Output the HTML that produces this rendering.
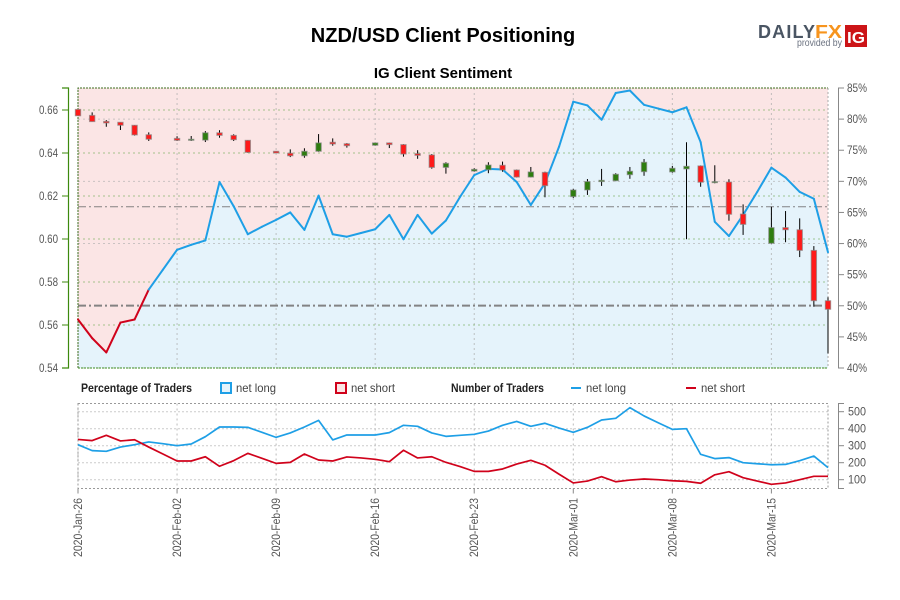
<!DOCTYPE html>
<html lang="en">
<head>
<meta charset="utf-8">
<title>NZD/USD Client Positioning</title>
<style>
html,body{margin:0;padding:0;background:#fff;}
#wrap{position:relative;width:900px;height:600px;overflow:hidden;background:#fff;}
svg{display:block;position:absolute;left:0;top:0;font-family:"Liberation Sans",sans-serif;}
</style>
</head>
<body>
<div id="wrap">
<svg id="chart" width="900" height="600" viewBox="0 0 900 600">
  <text x="443" y="42" text-anchor="middle" font-size="20" font-weight="bold" fill="#000">NZD/USD Client Positioning</text>
  <text x="443" y="78" text-anchor="middle" font-size="15" font-weight="bold" fill="#000">IG Client Sentiment</text>

  <g>
    <text x="758" y="38" font-size="18" font-weight="bold" fill="#4a5563" textLength="57" lengthAdjust="spacing">DAILY</text>
    <text x="815" y="38" font-size="18" font-weight="bold" fill="#f7941d" textLength="27" lengthAdjust="spacingAndGlyphs">FX</text>
    <text x="797" y="46" font-size="10" fill="#6b7280" textLength="45" lengthAdjust="spacingAndGlyphs">provided by</text>
    <rect x="845" y="25" width="22" height="22" fill="#cc1417"/>
    <text x="847" y="43" font-size="16" font-weight="bold" fill="#fff" textLength="18" lengthAdjust="spacingAndGlyphs">IG</text>
  </g>

  <g id="mainPlot"></g>
  <g id="leftAxis"></g>
  <g id="rightAxis"></g>

  <g>
    <text x="81" y="392" font-size="12" font-weight="bold" fill="#222" textLength="111" lengthAdjust="spacingAndGlyphs">Percentage of Traders</text>
    <rect x="221" y="383" width="10" height="10" fill="#e5f3fb" stroke="#1e9fe6" stroke-width="2"/>
    <text x="236" y="392" font-size="12" fill="#444" textLength="40" lengthAdjust="spacingAndGlyphs">net long</text>
    <rect x="336" y="383" width="10" height="10" fill="#fbe5e5" stroke="#d0021b" stroke-width="2"/>
    <text x="351" y="392" font-size="12" fill="#444" textLength="44" lengthAdjust="spacingAndGlyphs">net short</text>
    <text x="451" y="392" font-size="12" font-weight="bold" fill="#222" textLength="93" lengthAdjust="spacingAndGlyphs">Number of Traders</text>
    <line x1="571" y1="388" x2="581" y2="388" stroke="#1e9fe6" stroke-width="2"/>
    <text x="586" y="392" font-size="12" fill="#444" textLength="40" lengthAdjust="spacingAndGlyphs">net long</text>
    <line x1="686" y1="388" x2="696" y2="388" stroke="#d0021b" stroke-width="2"/>
    <text x="701" y="392" font-size="12" fill="#444" textLength="44" lengthAdjust="spacingAndGlyphs">net short</text>
  </g>

  <g id="lowerPlot"></g>
  <g id="lowerAxis"></g>
  <g id="dateAxis"></g>
</svg>
</div>
<script>
const dateTicks = ['2020-Jan-26','2020-Feb-02','2020-Feb-09','2020-Feb-16','2020-Feb-23','2020-Mar-01','2020-Mar-08','2020-Mar-15'];
const dateTickIndex = [0,7,14,21,28,35,42,49];
const priceTicks = [0.54,0.56,0.58,0.60,0.62,0.64,0.66];
const sentimentTicks = [40,45,50,55,60,65,70,75,80,85];
const traderTicks = [100,200,300,400,500];
const sentimentGrid = [60,70,80];
const priceRefs = [0.615,0.569];

const sentiment = [47.8,44.8,42.5,47.3,47.8,52.6,55.8,59.0,59.8,60.5,69.9,66.0,61.5,62.7,63.8,65.0,62.2,67.7,61.5,61.1,61.7,62.3,64.6,60.7,64.6,61.6,63.7,67.5,71.0,72.0,71.9,69.9,66.2,69.7,75.6,82.8,82.2,79.9,84.2,84.6,82.3,81.7,81.1,81.9,76.3,63.5,61.2,64.6,68.3,72.2,70.6,68.3,67.2,58.6];

const opens = [.6603,.6575,.6547,.6543,.6529,.6485,null,.6468,.6459,.6460,.6494,.6482,.6459,null,.6408,.6399,.6387,.6408,.6450,.6443,null,.6436,.6447,.6439,.6397,.6391,.6333,null,.6316,.6322,.6343,.6321,.6288,.6310,null,.6197,.6228,.6267,.6271,.6299,.6313,null,.6312,.6326,.6340,.6262,.6265,.6116,null,.5980,.6053,.6043,.5947,.5713];
const closes = [.6573,.6546,.6540,.6529,.6484,.6464,null,.6459,.6464,.6494,.6482,.6462,.6403,null,.6400,.6387,.6408,.6447,.6442,.6434,null,.6447,.6439,.6395,.6389,.6333,.6352,null,.6324,.6344,.6321,.6288,.6312,.6248,null,.6228,.6267,.6273,.6301,.6315,.6357,null,.6329,.6338,.6264,.6267,.6115,.6068,null,.6053,.6043,.5947,.5713,.5673];
const highs = [.6603,.6589,.6553,.6543,.6530,.6496,null,.6478,.6479,.6502,.6506,.6487,.6460,null,.6408,.6417,.6422,.6488,.6468,.6446,null,.6449,.6448,.6441,.6413,.6395,.6357,null,.6329,.6357,.6360,.6323,.6335,.6313,null,.6233,.6279,.6326,.6306,.6335,.6372,null,.6340,.6450,.6342,.6343,.6278,.6161,null,.6150,.6130,.6096,.5967,.5729];
const lows = [.6573,.6546,.6522,.6507,.6481,.6456,null,.6456,.6456,.6451,.6471,.6456,.6401,null,.6400,.6381,.6378,.6406,.6434,.6425,null,.6434,.6423,.6383,.6373,.6327,.6304,null,.6313,.6306,.6313,.6286,.6287,.6194,null,.6191,.6205,.6247,.6269,.6280,.6294,null,.6308,.5999,.6243,.6259,.6085,.6019,null,.5978,.5985,.5916,.5685,.5468];

const longTraders = [306,271,267,292,306,322,312,300,310,353,410,410,408,379,349,375,410,449,334,363,363,363,377,420,414,375,355,361,367,386,420,443,414,432,404,379,408,451,461,524,475,435,396,400,249,224,230,200,194,188,190,212,239,171];
const shortTraders = [337,330,361,328,335,292,251,210,210,235,179,212,255,226,196,202,251,216,210,234,228,220,206,273,228,235,202,177,149,149,163,192,214,185,132,81,92,118,88,98,104,100,94,90,79,129,147,112,92,73,81,100,120,120];

const NS = 'http://www.w3.org/2000/svg';
const plotL = 78, plotR = 828, plotT = 88, plotB = 368, lowT = 403.5, lowB = 488.5;
const x = i => plotL + (plotR - plotL) * i / (sentiment.length - 1);
const yPrice = p => plotB - (p - 0.54) * 2150;
const ySent = s => plotB - (s - 40) * 280 / 45;
const yTrad = v => 479.7 - (v - 100) * 0.17;
const RED = '#d0021b', BLUE = '#1e9fe6';

function make(tag, parent, attrs, text) {
  const el = document.createElementNS(NS, tag);
  for (const k in attrs) el.setAttribute(k, attrs[k]);
  if (text !== undefined) el.textContent = text;
  parent.appendChild(el);
  return el;
}
function pts(vals, yf) { return vals.map((v, i) => x(i).toFixed(2) + ',' + yf(v).toFixed(2)).join(' '); }

const main = document.getElementById('mainPlot');
const lower = document.getElementById('lowerPlot');
const leftAxis = document.getElementById('leftAxis');
const rightAxis = document.getElementById('rightAxis');
const lowerAxis = document.getElementById('lowerAxis');
const dateAxis = document.getElementById('dateAxis');
let el;

/* backgrounds */
el = make('rect', main, {x: plotL, y: plotT, width: plotR - plotL, height: plotB - plotT, fill: '#fbe5e5'});


el = make('polygon', main, {points: plotL + ',' + plotB + ' ' + pts(sentiment, ySent) + ' ' + plotR + ',' + plotB, fill: '#e5f3fb'});



/* sentiment grid */
sentimentGrid.forEach(s => {
  const line = make('line', main, {x1: plotL, x2: plotR, y1: ySent(s), y2: ySent(s), stroke: '#aaa', 'stroke-opacity': .6, 'stroke-width': 1, 'stroke-dasharray': '2 3'});
  
  
});
/* vertical grid */
dateTickIndex.forEach(i => {
  const line = make('line', main, {x1: x(i), x2: x(i), y1: plotT, y2: plotB, stroke: '#aaa', 'stroke-opacity': .7, 'stroke-width': 1, 'stroke-dasharray': '2 3'});
  
  
});
/* price grid */
priceTicks.forEach(p => {
  const line = make('line', main, {x1: plotL, x2: plotR, y1: yPrice(p), y2: yPrice(p), stroke: '#6aa84f', 'stroke-opacity': .6, 'stroke-width': 1, 'stroke-dasharray': '2 3'});
  
  
});
/* reference lines */
priceRefs.forEach((p, n) => {
  const line = make('line', main, {x1: plotL, x2: plotR, y1: yPrice(p), y2: yPrice(p), stroke: '#777', 'stroke-width': n === 1 ? 2 : 1, 'stroke-opacity': .9, 'stroke-dasharray': '8 3 2 3'});
  
  
});
/* plot border */
el = make('path', main, {d: 'M' + plotL + ' ' + plotB + 'V' + plotT + 'H' + plotR, fill: 'none', stroke: '#3c6e1e', 'stroke-width': 1, 'stroke-dasharray': '2 1'});


el = make('line', main, {x1: plotL, x2: plotR, y1: plotB, y2: plotB, stroke: '#3c8a1e', 'stroke-width': 1, 'stroke-dasharray': '2 1'});


el = make('line', main, {x1: plotR, x2: plotR, y1: plotT, y2: plotB, stroke: '#aaa', 'stroke-width': 1, 'stroke-dasharray': '2 2'});



/* sentiment line: each segment takes the colour of its starting point */
for (let i = 0; i < sentiment.length - 1; i++) {
  const seg = make('line', main, {x1: x(i), y1: ySent(sentiment[i]), x2: x(i + 1), y2: ySent(sentiment[i + 1]), stroke: sentiment[i] < 50 ? RED : BLUE, 'stroke-width': 2, 'stroke-linecap': 'round'});
  
  
}

/* candles */
opens.forEach((o, i) => {
  if (o === null) return;
  const c = closes[i], up = c >= o;
  const wick = make('line', main, {x1: x(i), x2: x(i), y1: yPrice(highs[i]), y2: yPrice(lows[i]), stroke: '#000', 'stroke-width': 1});
  
  
  const top = yPrice(Math.max(o, c)), bot = yPrice(Math.min(o, c));
  const body = make('rect', main, {x: x(i) - 2.7, y: top, width: 5.4, height: Math.max(bot - top, 1), fill: up ? '#2e7d0f' : '#ff1a1a', stroke: '#888', 'stroke-opacity': .7, 'stroke-width': 1});
  
  
});

/* left axis */
el = make('path', leftAxis, {d: 'M62 ' + plotT + 'H68.5V' + plotB + 'H62', fill: 'none', stroke: '#3c8a0e', 'stroke-width': 1.2});


priceTicks.forEach(p => {
  const t = make('line', leftAxis, {x1: 62, x2: 68, y1: yPrice(p), y2: yPrice(p), stroke: '#3c8a0e', 'stroke-width': 1});
  
  
  const lab = make('text', leftAxis, {x: 39, y: yPrice(p) + 4, 'font-size': 12, fill: '#555', textLength: 19, lengthAdjust: 'spacingAndGlyphs'}, p.toFixed(2));
  
  
});

/* right axis */
el = make('line', rightAxis, {x1: 838.5, x2: 838.5, y1: plotT, y2: plotB, stroke: '#888', 'stroke-width': 1});


sentimentTicks.forEach(s => {
  const t = make('line', rightAxis, {x1: 838, x2: 844, y1: ySent(s), y2: ySent(s), stroke: '#888', 'stroke-width': 1});
  
  
  const lab = make('text', rightAxis, {x: 847, y: ySent(s) + 4, 'font-size': 12, fill: '#555', textLength: 20, lengthAdjust: 'spacingAndGlyphs'}, s + '%');
  
  
});

/* lower plot */
traderTicks.forEach(v => {
  const g = make('line', lower, {x1: plotL, x2: plotR, y1: yTrad(v), y2: yTrad(v), stroke: '#ccc', 'stroke-width': 1, 'stroke-dasharray': '2 2'});
  
  
});
dateTickIndex.forEach(i => {
  const g = make('line', lower, {x1: x(i), x2: x(i), y1: lowT, y2: lowB, stroke: '#bbb', 'stroke-width': 1, 'stroke-dasharray': '2 3'});
  
  
});
el = make('rect', lower, {x: plotL, y: lowT, width: plotR - plotL, height: lowB - lowT, fill: 'none', stroke: '#999', 'stroke-width': 1, 'stroke-dasharray': '2 2'});


el = make('polyline', lower, {points: pts(longTraders, yTrad), fill: 'none', stroke: BLUE, 'stroke-width': 1.7, 'stroke-linejoin': 'round'});


el = make('polyline', lower, {points: pts(shortTraders, yTrad), fill: 'none', stroke: RED, 'stroke-width': 1.7, 'stroke-linejoin': 'round'});



/* lower right axis */
el = make('path', lowerAxis, {d: 'M844 ' + lowT + 'H838.5V' + lowB + 'H844', fill: 'none', stroke: '#888', 'stroke-width': 1});


traderTicks.forEach(v => {
  const t = make('line', lowerAxis, {x1: 838, x2: 844, y1: yTrad(v), y2: yTrad(v), stroke: '#888', 'stroke-width': 1});
  
  
  const lab = make('text', lowerAxis, {x: 848, y: yTrad(v) + 4, 'font-size': 12, fill: '#555', textLength: 18, lengthAdjust: 'spacingAndGlyphs'}, String(v));
  
  
});

/* date axis */
dateTicks.forEach((d, n) => {
  const px = x(dateTickIndex[n]);
  const t = make('line', dateAxis, {x1: px, x2: px, y1: lowB, y2: lowB + 5, stroke: '#888', 'stroke-width': 1});
  
  
  const lab = make('text', dateAxis, {x: 0, y: 0, 'font-size': 12, fill: '#555', textLength: 59, lengthAdjust: 'spacingAndGlyphs', transform: 'translate(' + (px + 4) + ',557) rotate(-90)'}, d);
  
  
});
</script>
</body>
</html>
